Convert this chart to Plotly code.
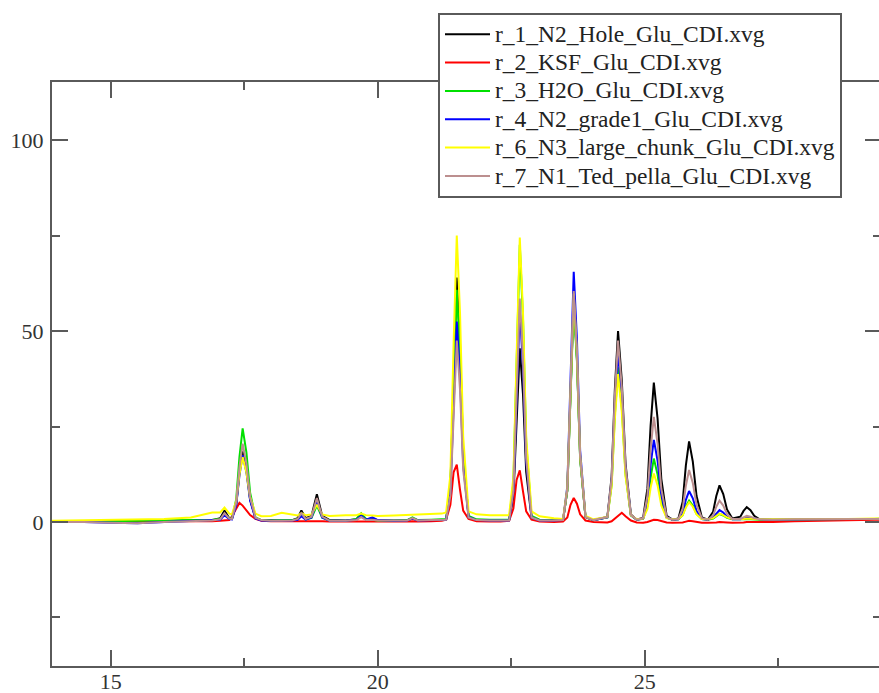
import plotly.graph_objects as go

# shared retention-time grid (x)
time_x = [
    13.9, 14.5, 15.0, 15.5, 16.0, 16.5, 16.9,
    17.05, 17.13, 17.22,
    17.27, 17.35, 17.41, 17.47, 17.54, 17.61, 17.71, 17.82,
    18.0, 18.2, 18.4,
    18.50, 18.57, 18.65,
    18.76, 18.86, 18.96,
    19.1, 19.4,
    19.60, 19.69, 19.78,
    19.90, 20.0,
    20.3,
    20.55, 20.65, 20.75,
    21.0, 21.2,
    21.28, 21.36, 21.42, 21.48, 21.54, 21.60, 21.70, 21.85,
    22.1, 22.3,
    22.46, 22.54, 22.60, 22.66, 22.72, 22.78, 22.88, 23.03,
    23.3,
    23.47, 23.55, 23.61, 23.67, 23.73, 23.79, 23.89, 24.04,
    24.30, 24.38, 24.44, 24.50, 24.57, 24.64, 24.74, 24.85,
    24.97, 25.05, 25.11, 25.17, 25.24, 25.31, 25.41, 25.52,
    25.63, 25.71, 25.77, 25.83, 25.90, 25.97, 26.07, 26.18,
    26.28, 26.34, 26.40, 26.47, 26.54, 26.64,
    26.79, 26.85, 26.91, 26.98, 27.05, 27.15,
    27.4, 27.8, 28.3, 28.8, 29.3, 29.6,
]

r1_hole = [
    0.0, 0.2, 0.2, 0.1, 0.2, 0.3, 0.5,
    1.0, 3.0, 1.0,
    0.8, 4.6, 12.9, 18.5, 13.8, 5.9, 1.0, 0.5,
    0.4, 0.4, 0.5,
    1.0, 3.0, 1.0,
    1.6, 7.3, 1.6,
    0.5, 0.4,
    0.7, 1.8, 0.7,
    0.9, 0.5,
    0.4,
    0.5, 0.9, 0.5,
    0.5, 0.6,
    0.5, 9.1, 39.2, 64.0, 46.9, 18.3, 1.4, 0.5,
    0.4, 0.4,
    0.5, 6.6, 27.9, 45.5, 33.4, 13.1, 1.1, 0.5,
    0.4,
    0.5, 8.3, 35.9, 58.5, 42.8, 16.7, 1.3, 0.5,
    1.3, 11.9, 34.7, 50.0, 37.1, 15.3, 2.0, 0.6,
    1.1, 8.8, 25.3, 36.5, 27.1, 11.3, 1.6, 0.6,
    0.9, 5.3, 14.8, 21.1, 15.8, 6.8, 1.2, 0.6,
    2.7, 6.8, 9.6, 7.3, 3.3, 0.9,
    1.4, 2.9, 3.9, 3.1, 1.6, 0.7,
    0.6, 0.6, 0.7, 0.7, 0.8, 0.8,
]

r2_ksf = [
    0.2, 0.2, 0.2, 0.1, 0.1, 0.2, 0.2,
    0.3, 0.4, 0.5,
    1.5, 3.5, 5.0, 4.3, 3.0, 1.8, 0.8, 0.3,
    0.2, 0.2, 0.2,
    0.2, 0.3, 0.2,
    0.2, 0.3, 0.2,
    0.1, 0.1,
    0.0, 0.1, 0.0,
    0.0, 0.0,
    0.1,
    0.1, 0.2, 0.1,
    0.2, 0.3,
    0.6, 4.5, 13.0, 15.0, 8.5, 3.0, 0.8, 0.2,
    0.1, 0.1,
    0.3, 3.5, 11.0, 13.5, 8.0, 2.8, 0.6, 0.1,
    0.0,
    0.1, 1.2, 4.5, 6.3, 4.8, 2.0, 0.4, 0.0,
    -0.1, 0.2, 0.9, 1.8, 2.4, 1.5, 0.4, -0.1,
    -0.2, 0.0, 0.3, 0.6, 0.5, 0.2, -0.1, -0.2,
    -0.2, -0.1, 0.1, 0.3, 0.2, 0.0, -0.2, -0.2,
    -0.2, -0.1, 0.0, 0.0, -0.1, -0.2,
    -0.2, -0.1, 0.0, 0.0, -0.1, -0.1,
    0.0, 0.2, 0.4, 0.5, 0.6, 0.6,
]

r3_h2o = [
    0.0, 0.1, 0.2, 0.2, 0.3, 0.4, 0.6,
    0.8, 2.0, 1.0,
    0.9, 6.0, 17.0, 24.5, 18.3, 7.7, 1.2, 0.5,
    0.4, 0.5, 0.5,
    0.7, 1.8, 0.7,
    1.1, 4.3, 1.1,
    0.4, 0.3,
    0.8, 2.3, 0.8,
    0.6, 0.4,
    0.4,
    0.5, 1.2, 0.5,
    0.6, 0.8,
    0.8, 8.9, 37.1, 60.8, 44.3, 17.3, 1.6, 0.7,
    0.6, 0.6,
    0.6, 10.3, 44.5, 72.6, 53.2, 20.8, 1.6, 0.6,
    0.5,
    0.5, 8.2, 35.3, 57.5, 42.1, 16.5, 1.3, 0.5,
    1.2, 9.7, 28.1, 40.5, 30.1, 12.5, 1.7, 0.6,
    0.8, 4.2, 11.6, 16.6, 12.4, 5.4, 1.1, 0.6,
    0.7, 1.8, 4.1, 5.6, 4.3, 2.1, 0.8, 0.6,
    0.9, 1.6, 2.1, 1.7, 1.1, 0.7,
    0.6, 0.7, 0.8, 0.7, 0.7, 0.6,
    0.6, 0.7, 0.7, 0.8, 0.8, 0.9,
]

r4_grade1 = [
    0.0, 0.0, -0.2, -0.3, 0.0, 0.2, 0.4,
    0.6, 1.8, 0.8,
    0.7, 4.4, 12.2, 17.5, 13.1, 5.6, 0.9, 0.4,
    0.3, 0.3, 0.4,
    0.6, 1.5, 0.6,
    1.2, 5.3, 1.2,
    0.3, 0.3,
    0.6, 1.7, 0.6,
    1.2, 0.5,
    0.3,
    0.4, 0.9, 0.4,
    0.5, 0.6,
    0.6, 7.6, 32.3, 52.5, 38.5, 15.1, 1.3, 0.5,
    0.4, 0.4,
    0.4, 7.8, 34.0, 55.5, 40.6, 15.9, 1.2, 0.4,
    0.4,
    0.5, 9.3, 40.1, 65.5, 47.9, 18.7, 1.4, 0.5,
    1.2, 10.6, 30.9, 44.5, 33.1, 13.7, 1.8, 0.6,
    0.9, 5.4, 15.0, 21.5, 16.1, 6.9, 1.2, 0.6,
    0.7, 2.3, 5.8, 8.1, 6.2, 2.9, 0.8, 0.6,
    1.2, 2.3, 3.1, 2.5, 1.4, 0.7,
    0.7, 0.9, 1.1, 1.0, 0.8, 0.7,
    0.6, 0.7, 0.7, 0.8, 0.8, 0.8,
]

r6_large_chunk = [
    0.3, 0.4, 0.5, 0.6, 0.8, 1.2, 2.5,
    2.5, 3.8, 2.2,
    2.0, 5.5, 12.5, 17.0, 13.0, 6.5, 2.2, 1.5,
    1.6, 2.4, 1.8,
    1.7, 2.3, 1.8,
    2.0, 4.5, 2.0,
    1.6, 1.8,
    1.8, 2.2, 1.8,
    1.7, 1.6,
    1.7,
    1.8, 2.0, 1.9,
    2.0, 2.2,
    2.5, 12.2, 46.4, 75.0, 55.0, 22.4, 2.8, 2.0,
    1.8, 1.8,
    1.8, 11.6, 46.3, 74.5, 54.8, 22.2, 2.8, 1.5,
    1.0,
    0.8, 8.8, 36.8, 59.8, 43.8, 17.3, 1.6, 0.7,
    1.3, 9.4, 26.9, 38.7, 28.8, 12.0, 1.8, 0.7,
    0.9, 3.4, 9.0, 12.7, 9.6, 4.3, 1.0, 0.7,
    0.8, 1.7, 3.8, 5.2, 4.0, 2.0, 0.8, 0.7,
    1.0, 1.7, 2.2, 1.8, 1.2, 0.8,
    0.7, 0.8, 0.9, 0.8, 0.8, 0.7,
    0.7, 0.7, 0.8, 0.8, 0.9, 0.9,
]

r7_ted_pella = [
    0.0, 0.0, -0.2, -0.3, 0.0, 0.2, 0.4,
    0.7, 2.3, 0.9,
    0.8, 5.1, 14.3, 20.5, 15.3, 6.5, 1.1, 0.5,
    0.3, 0.3, 0.4,
    0.8, 2.3, 0.8,
    1.4, 6.3, 1.4,
    0.3, 0.3,
    0.5, 1.3, 0.5,
    0.6, 0.4,
    0.3,
    0.4, 1.0, 0.4,
    0.5, 0.6,
    0.6, 6.9, 29.2, 47.5, 34.8, 13.7, 1.2, 0.5,
    0.4, 0.4,
    0.4, 8.2, 35.8, 58.5, 42.8, 16.7, 1.2, 0.4,
    0.4,
    0.5, 8.6, 37.1, 60.5, 44.3, 17.3, 1.3, 0.5,
    1.3, 11.3, 33.0, 47.5, 35.3, 14.6, 1.9, 0.6,
    1.0, 6.8, 19.1, 27.5, 20.5, 8.7, 1.3, 0.6,
    0.8, 3.5, 9.5, 13.6, 10.2, 4.5, 1.0, 0.6,
    1.7, 4.0, 5.6, 4.3, 2.1, 0.8,
    0.8, 1.3, 1.6, 1.4, 1.0, 0.7,
    0.6, 0.7, 0.7, 0.8, 0.8, 0.8,
]

series_names = [
    "r_1_N2_Hole_Glu_CDI.xvg",
    "r_2_KSF_Glu_CDI.xvg",
    "r_3_H2O_Glu_CDI.xvg",
    "r_4_N2_grade1_Glu_CDI.xvg",
    "r_6_N3_large_chunk_Glu_CDI.xvg",
    "r_7_N1_Ted_pella_Glu_CDI.xvg",
]
series_values = [r1_hole, r2_ksf, r3_h2o, r4_grade1, r6_large_chunk, r7_ted_pella]
series_colors = ["#000000", "#ff0000", "#00e000", "#0000ff", "#ffff00", "#bc8f8f"]

x_tickvals = [15, 20, 25]
y_tickvals = [0, 50, 100]

fig = go.Figure()
for name, vals, col in zip(series_names, series_values, series_colors):
    fig.add_trace(go.Scatter(
        x=time_x, y=vals, mode="lines",
        name='<span style="font-size:23.5px">' + name + '</span>',
        line=dict(color=col, width=2)))

axis_common = dict(
    showgrid=False, zeroline=False, showline=True, linecolor="#5a5a5a",
    linewidth=2, mirror="ticks", ticks="inside", ticklen=16, tickwidth=2,
    tickcolor="#5a5a5a", automargin=False,
    tickfont=dict(family="Liberation Serif", size=22, color="#333333"),
)

fig.update_xaxes(range=[13.9, 29.424], tickvals=x_tickvals, ticklabelstandoff=-5,
                 minor=dict(ticks="inside", ticklen=8, tickwidth=2,
                            tickcolor="#5a5a5a", dtick=2.5, tick0=0),
                 **axis_common)
fig.update_yaxes(range=[-37.7, 115.2], tickvals=y_tickvals, ticklabelstandoff=2,
                 minor=dict(ticks="inside", ticklen=8, tickwidth=2,
                            tickcolor="#5a5a5a", dtick=25, tick0=0),
                 **axis_common)

# the right frame edge lies just beyond the visible page, as in the reference
fig.update_layout(
    width=881, height=693,
    margin=dict(l=52, r=0, t=82, b=27, autoexpand=False),
    paper_bgcolor="white", plot_bgcolor="white",
    showlegend=True,
    legend=dict(
        x=(438 - 52) / 829, y=(666 - 13) / 584, xanchor="left", yanchor="top",
        bgcolor="white", bordercolor="#5a5a5a", borderwidth=2,
        font=dict(family="Liberation Serif", size=19.5, color="#222222"),
        tracegroupgap=0, itemwidth=45,
    ),
)

fig.write_html(
    "out.html",
    config={"displayModeBar": False},
    post_script="document.body.style.margin='0';document.body.style.overflow='hidden';",
)
